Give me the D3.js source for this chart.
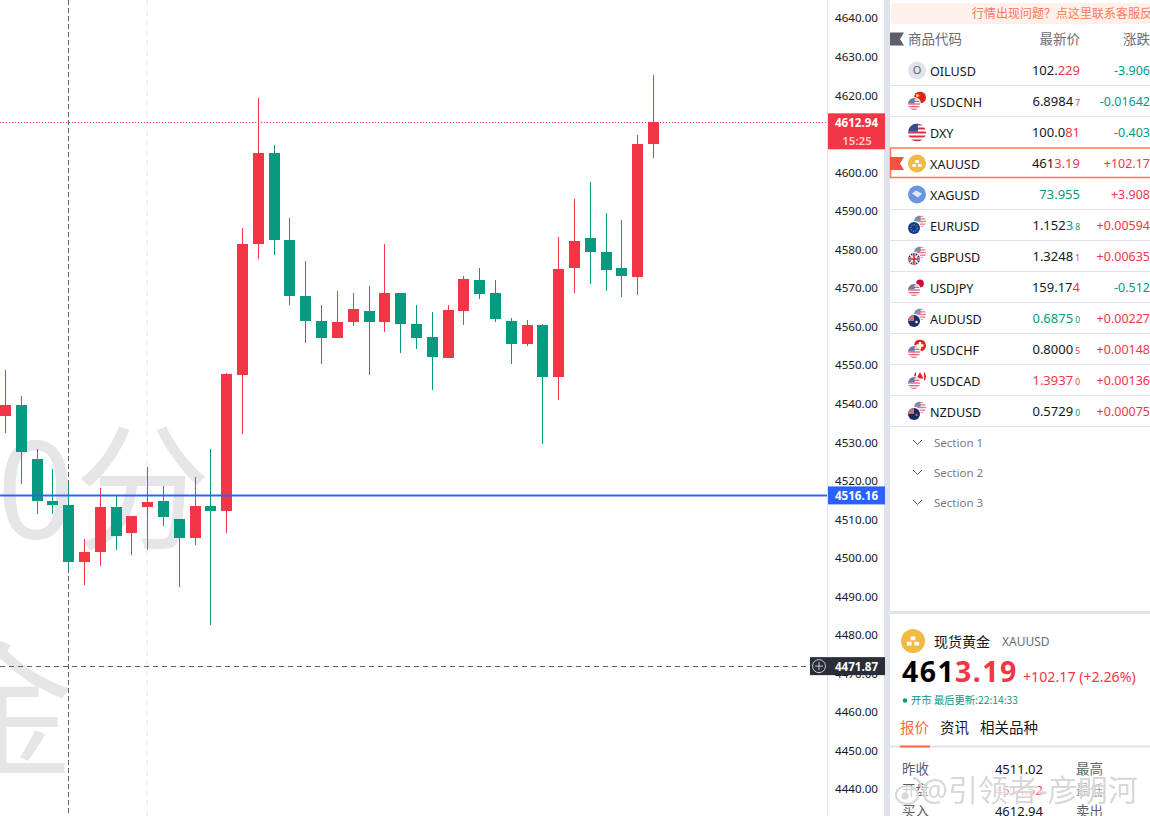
<!DOCTYPE html>
<html>
<head>
<meta charset="utf-8">
<script src="https://cdn.jsdelivr.net/npm/d3@7"></script>
<style>
html, body { margin: 0; padding: 0; background: #fff; overflow: hidden; }
svg { display: block; }
text { font-family: "Noto Sans", "Noto Sans CJK SC", sans-serif; }
.cjk { font-family: "Noto Sans CJK SC", "Noto Sans", sans-serif; }
</style>
</head>
<body>
<svg id="chart" width="1150" height="816"></svg>
<script>
// candles, left to right
var opens = [4536.8, 4539.6, 4525.6, 4514.7, 4513.7, 4499, 4501.6, 4513.2, 4506.5, 4513.2, 4514.7, 4510, 4505.2, 4513.4, 4512.2, 4547.5, 4581.5, 4605, 4582.4, 4568, 4561.5, 4557.1, 4561.1, 4564, 4561.2, 4568.7, 4560.6, 4557.3, 4551.8, 4564.1, 4572, 4568.7, 4561.4, 4555.4, 4560.4, 4547, 4575.1, 4582.9, 4579.3, 4575.1, 4572.8, 4607.3];
var highs = [4548.7, 4541.9, 4528.2, 4523, 4519.1, 4504.9, 4518.1, 4516.3, 4510.8, 4523.5, 4518.6, 4510, 4520.9, 4528.2, 4548, 4585.5, 4619.2, 4607.1, 4588.1, 4577, 4565.6, 4569.2, 4568.7, 4570.5, 4581.4, 4568.7, 4565.6, 4563.7, 4565.6, 4573.1, 4575.1, 4572, 4562.2, 4561.7, 4560.6, 4583.2, 4593, 4597.5, 4589.4, 4587.6, 4609.6, 4625.2];
var lows = [4532.4, 4519.2, 4511.4, 4511.4, 4496.8, 4492.9, 4497.9, 4502, 4500.7, 4502, 4508.2, 4492.4, 4503.3, 4482.5, 4506.4, 4532.2, 4577.5, 4578.5, 4565.6, 4555.7, 4550.2, 4557.1, 4560.1, 4547.4, 4558.5, 4553.1, 4554.1, 4543.5, 4551.8, 4560.4, 4567.1, 4561.1, 4550.2, 4554.9, 4529.5, 4540.9, 4568.7, 4571, 4569.2, 4567.6, 4568.1, 4603.7];
var closes = [4539.6, 4527.5, 4514.8, 4513.7, 4499, 4501.5, 4513.2, 4505.7, 4510.8, 4514.5, 4510.6, 4505.2, 4513.4, 4512.2, 4547.7, 4581.4, 4605, 4582.5, 4568, 4561.5, 4557.1, 4561.1, 4564.5, 4561.2, 4568.7, 4560.7, 4557.1, 4552.1, 4564.3, 4572.3, 4568.4, 4561.9, 4555.4, 4560.4, 4547, 4574.9, 4582.2, 4579.3, 4574.6, 4573.1, 4607.3, 4612.94];

var yTicks = [4440, 4450, 4460, 4470, 4480, 4490, 4500, 4510, 4520, 4530, 4540, 4550, 4560, 4570, 4580, 4590, 4600, 4610, 4620, 4630, 4640];
var lastPrice = 4612.94;
var lineLevel = 4516.16;
var crossLevel = 4471.87;

// watch list
var symbols = ["OILUSD", "USDCNH", "DXY", "XAUUSD", "XAGUSD", "EURUSD", "GBPUSD", "USDJPY", "AUDUSD", "USDCHF", "USDCAD", "NZDUSD"];
var priceBlack = ["102.", "6.8984", "100.0", "461", "", "1.152", "1.3248", "159.17", "", "0.8000", "", "0.5729"];
var priceMain = ["229", "", "81", "3.19", "73.955", "3", "", "4", "0.6875", "", "1.3937", ""];
var priceSmall = ["", "7", "", "", "", "8", "1", "", "0", "5", "0", "0"];
var mainDir = ["r", "", "r", "r", "g", "g", "", "r", "g", "", "r", ""];
var smallDir = ["", "r", "", "", "", "g", "r", "", "g", "r", "r", "g"];
var changes = ["-3.906", "-0.01642", "-0.403", "+102.17", "+3.908", "+0.00594", "+0.00635", "-0.512", "+0.00227", "+0.00148", "+0.00136", "+0.00075"];
var sections = ["Section 1", "Section 2", "Section 3"];
var tabs = ["报价", "资讯", "相关品种"];

var red = "#f23645", green = "#089981", grayLine = "#e0e3eb", dark = "#2a2e39";
var dirColor = { r: red, g: green };

var svg = d3.select("#chart");
var chartRight = 828, axisRight = 884, panelLeft = 890;

var x = d3.scaleLinear().domain([0, opens.length - 1]).range([5.5, 653.5]);
var y = d3.scaleLinear().domain([4440, 4640]).range([789, 18]);

// big background letters
var wm = svg.append("g").attr("class", "cjk").attr("fill", "#e6e6e8");
wm.append("text").attr("x", -3).attr("y", 539).attr("font-size", 136).text("0分");
wm.append("text").attr("x", -72).attr("y", 765).attr("font-size", 146).text("金");

// faint session line + crosshair
svg.append("line").attr("x1", 147).attr("x2", 147).attr("y1", 0).attr("y2", 816)
    .attr("stroke", "#f0f3fa").attr("stroke-width", 2).attr("stroke-dasharray", "6,4");
svg.append("line").attr("x1", 68.5).attr("x2", 68.5).attr("y1", 0).attr("y2", 816)
    .attr("stroke", "#5d606b").attr("stroke-dasharray", "5,3");
svg.append("line").attr("x1", 0).attr("x2", 810).attr("y1", Math.round(y(crossLevel)) + 0.5).attr("y2", Math.round(y(crossLevel)) + 0.5)
    .attr("stroke", "#5d606b").attr("stroke-dasharray", "5,4");

var candle = svg.append("g").attr("shape-rendering", "crispEdges").selectAll("g")
    .data(d3.range(opens.length))
    .enter().append("g")
    .attr("fill", function (i) { return closes[i] >= opens[i] ? red : green; });

candle.append("rect")
    .attr("x", function (i) { return Math.floor(x(i)); })
    .attr("width", 1)
    .attr("y", function (i) { return Math.round(y(highs[i])); })
    .attr("height", function (i) { return Math.round(y(lows[i])) - Math.round(y(highs[i])); });

candle.append("rect")
    .attr("x", function (i) { return Math.floor(x(i)) - 5; })
    .attr("width", 11)
    .attr("y", function (i) { return Math.round(y(Math.max(opens[i], closes[i]))); })
    .attr("height", function (i) { return Math.max(1, Math.round(y(Math.min(opens[i], closes[i]))) - Math.round(y(Math.max(opens[i], closes[i])))); });

// last price + blue level
svg.append("line").attr("x1", 0).attr("x2", chartRight).attr("y1", Math.round(y(lastPrice)) + 0.5).attr("y2", Math.round(y(lastPrice)) + 0.5)
    .attr("stroke", red).attr("stroke-dasharray", "1,2");
svg.append("line").attr("x1", 0).attr("x2", chartRight).attr("y1", y(lineLevel)).attr("y2", y(lineLevel))
    .attr("stroke", "#2962ff").attr("stroke-opacity", 0.3).attr("stroke-width", 3);
svg.append("line").attr("x1", 0).attr("x2", chartRight).attr("y1", y(lineLevel)).attr("y2", y(lineLevel))
    .attr("stroke", "#2962ff").attr("stroke-width", 1.5);

// price axis
var yAxis = d3.axisRight(y).tickValues(yTicks).tickSize(0).tickPadding(7).tickFormat(d3.format(".2f"));
var gy = svg.append("g").attr("transform", "translate(" + chartRight + ",0)").call(yAxis);
gy.select(".domain").attr("stroke", grayLine).attr("d", "M-0.5,0V816");
gy.selectAll("text").attr("font-size", 11.6).attr("fill", "#131722").attr("dy", "0.34em").style("font-family", '"Noto Sans", sans-serif');

svg.append("rect").attr("x", axisRight).attr("y", 0).attr("width", panelLeft - axisRight).attr("height", 816).attr("fill", grayLine);

function axisTag(level, color, h) {
    var top = y(level) - 9;
    svg.append("rect").attr("x", chartRight).attr("y", top).attr("width", axisRight - chartRight + 1).attr("height", h).attr("fill", color);
    svg.append("text").attr("x", 856.5).attr("y", top + 13.5).attr("text-anchor", "middle")
        .attr("font-size", 11.6).attr("font-weight", 700).attr("fill", "#fff").text(d3.format(".2f")(level));
}
axisTag(lastPrice, red, 36);
svg.append("text").attr("x", 857).attr("y", 145).attr("text-anchor", "middle")
    .attr("font-size", 11.5).attr("font-weight", 600).attr("fill", "#fcc").text("15:25");
axisTag(lineLevel, "#2962ff", 18);
axisTag(crossLevel, dark, 18);

var plus = svg.append("g").attr("transform", "translate(819," + y(crossLevel) + ")");
plus.append("rect").attr("x", -9).attr("y", -9).attr("width", 18).attr("height", 18).attr("fill", dark);
plus.append("circle").attr("r", 6.5).attr("fill", "none").attr("stroke", "#c8cad0");
plus.append("path").attr("d", "M-4,0H4M0,-4V4").attr("stroke", "#c8cad0");

// ---- right panel ----
var panel = svg.append("g");

panel.append("rect").attr("x", 891).attr("y", 3).attr("width", 259).attr("height", 21).attr("rx", 3).attr("fill", "#fff0ec");
panel.append("text").attr("class", "cjk").attr("x", 972).attr("y", 18).attr("font-size", 12).attr("fill", "#ff7a50").text("行情出现问题？点这里联系客服反馈");

function flagMark(yc, color) {
    panel.append("path")
        .attr("d", "M" + panelLeft + "," + (yc - 6.5) + "H904L900," + yc + "L904," + (yc + 6.5) + "H" + panelLeft + "Z")
        .attr("fill", color);
}
flagMark(39, "#5d606b");
panel.append("text").attr("class", "cjk").attr("x", 908).attr("y", 44).attr("font-size", 13.5).attr("fill", "#6a6d78").text("商品代码");
panel.append("text").attr("class", "cjk").attr("x", 1080).attr("y", 44).attr("text-anchor", "end").attr("font-size", 13.5).attr("fill", "#6a6d78").text("最新价");
panel.append("text").attr("class", "cjk").attr("x", 1123).attr("y", 44).attr("font-size", 13.5).attr("fill", "#6a6d78").text("涨跌");

var rowTop = 54.5, rowH = 31;
var defs = svg.append("defs");
var clipN = 0;

function clipCircle(g, cx, cy, r) {
    var id = "c" + (clipN++);
    defs.append("clipPath").attr("id", id).append("circle").attr("cx", cx).attr("cy", cy).attr("r", r);
    return g.append("g").attr("clip-path", "url(#" + id + ")");
}
function usFlag(g, cx, cy, r, op) {
    var f = clipCircle(g, cx, cy, r).attr("opacity", op);
    f.append("rect").attr("x", cx - r).attr("y", cy - r).attr("width", 2 * r).attr("height", 2 * r).attr("fill", "#fff");
    d3.range(0, 5).forEach(function (k) {
        f.append("rect").attr("x", cx - r).attr("y", cy - r + k * 2 * r / 4.5).attr("width", 2 * r).attr("height", r / 4.5).attr("fill", "#d8304a");
    });
    f.append("rect").attr("x", cx - r).attr("y", cy - r).attr("width", r * 1.1).attr("height", r * 0.9).attr("fill", "#3c4a8c");
}
function otherFlag(g, code, cx, cy, r) {
    g.append("circle").attr("cx", cx).attr("cy", cy).attr("r", r + 1).attr("fill", "#fff");
    var f = clipCircle(g, cx, cy, r);
    var bg = { CNH: "#e0241c", EUR: "#123a94", GBP: "#1f3a80", JPY: "#fff", AUD: "#1c3068", CHF: "#e0241c", CAD: "#fff", NZD: "#122a66" }[code];
    f.append("rect").attr("x", cx - r).attr("y", cy - r).attr("width", 2 * r).attr("height", 2 * r).attr("fill", bg);
    if (code == "CNH") f.append("circle").attr("cx", cx - 2.5).attr("cy", cy - 2).attr("r", 1.6).attr("fill", "#f5d63c");
    if (code == "EUR") f.append("circle").attr("cx", cx).attr("cy", cy).attr("r", r * 0.55).attr("fill", "none").attr("stroke", "#e8c93a").attr("stroke-dasharray", "1,1.5");
    if (code == "GBP") {
        f.append("path").attr("d", "M" + (cx - r) + "," + (cy - r) + "L" + (cx + r) + "," + (cy + r) + "M" + (cx + r) + "," + (cy - r) + "L" + (cx - r) + "," + (cy + r)).attr("stroke", "#fff").attr("stroke-width", 1.5);
        f.append("path").attr("d", "M" + (cx - r) + "," + cy + "H" + (cx + r) + "M" + cx + "," + (cy - r) + "V" + (cy + r)).attr("stroke", "#fff").attr("stroke-width", 3.2);
        f.append("path").attr("d", "M" + (cx - r) + "," + cy + "H" + (cx + r) + "M" + cx + "," + (cy - r) + "V" + (cy + r)).attr("stroke", "#d8202c").attr("stroke-width", 1.6);
    }
    if (code == "JPY") f.append("circle").attr("cx", cx).attr("cy", cy).attr("r", r * 0.65).attr("fill", "#c8103a");
    if (code == "AUD" || code == "NZD") {
        f.append("rect").attr("x", cx - r).attr("y", cy - r).attr("width", r).attr("height", r).attr("fill", "#c9727a");
        f.append("circle").attr("cx", cx + 2.5).attr("cy", cy + 1).attr("r", 1.2).attr("fill", code == "AUD" ? "#fff" : "#e0505a");
    }
    if (code == "CHF") f.append("path").attr("d", "M" + (cx - 3.5) + "," + cy + "H" + (cx + 3.5) + "M" + cx + "," + (cy - 3.5) + "V" + (cy + 3.5)).attr("stroke", "#fff").attr("stroke-width", 2.4);
    if (code == "CAD") {
        f.append("rect").attr("x", cx - r).attr("y", cy - r).attr("width", 2).attr("height", 2 * r).attr("fill", "#e0242c");
        f.append("rect").attr("x", cx + r - 2).attr("y", cy - r).attr("width", 2).attr("height", 2 * r).attr("fill", "#e0242c");
        f.append("path").attr("d", "M" + cx + "," + (cy - 4.5) + "L" + (cx + 3.5) + "," + (cy + 2) + "H" + (cx - 3.5) + "Z").attr("fill", "#e0242c");
    }
}
function goldIcon(g, cx, cy, r) {
    g.append("circle").attr("cx", cx).attr("cy", cy).attr("r", r).attr("fill", "#f0bb42");
    var s = r / 9;
    [[-1.8, -3.4], [-4.6, 0.6], [1, 0.6]].forEach(function (b) {
        g.append("rect").attr("x", cx + b[0] * s).attr("y", cy + b[1] * s).attr("width", 3.6 * s).attr("height", 2.8 * s).attr("fill", "#fff");
    });
}
function rowIcon(g, sym, cy) {
    var cx = 917;
    if (sym == "OILUSD") {
        g.append("circle").attr("cx", cx).attr("cy", cy).attr("r", 9).attr("fill", "#e0e3eb");
        g.append("text").attr("x", cx).attr("y", cy + 3.5).attr("text-anchor", "middle").attr("font-size", 11).attr("fill", "#5d606b").text("O");
    } else if (sym == "DXY") {
        usFlag(g, cx, cy, 9, 1);
    } else if (sym == "XAUUSD") {
        goldIcon(g, cx, cy, 9);
    } else if (sym == "XAGUSD") {
        g.append("circle").attr("cx", cx).attr("cy", cy).attr("r", 9).attr("fill", "#6c94e4");
        g.append("path").attr("d", "M" + (cx - 5) + "," + (cy - 1) + "L" + (cx - 1) + "," + (cy - 4) + "L" + (cx + 5) + "," + (cy - 1) + "L" + (cx + 1) + "," + (cy + 3) + "Z").attr("fill", "#dfe8fa");
    } else if (sym.indexOf("USD") == 0) {
        otherFlag(g, sym.slice(3), cx + 3, cy - 4, 6);
        g.append("circle").attr("cx", cx - 3).attr("cy", cy + 2.5).attr("r", 7).attr("fill", "#fff");
        usFlag(g, cx - 3, cy + 2.5, 6, 0.75);
    } else {
        usFlag(g, cx + 3, cy - 4, 6, 0.65);
        g.append("circle").attr("cx", cx - 3).attr("cy", cy + 2.5).attr("r", 7).attr("fill", "#fff");
        otherFlag(g, sym.slice(0, 3), cx - 3, cy + 2.5, 6);
    }
}

symbols.forEach(function (sym, i) {
    var yc = rowTop + rowH * i + 16;
    var row = panel.append("g");
    rowIcon(row, sym, yc);
    row.append("text").attr("x", 930).attr("y", yc + 5).attr("font-size", 12.6).attr("fill", "#131722").text(sym);

    var price = row.append("text").attr("x", 1080).attr("y", yc + 4.5).attr("text-anchor", "end").attr("font-size", 13).attr("fill", "#131722");
    price.append("tspan").text(priceBlack[i]);
    price.append("tspan").attr("fill", dirColor[mainDir[i]] || "#131722").text(priceMain[i]);
    price.append("tspan").attr("font-size", 8.5).attr("dx", 2).attr("fill", dirColor[smallDir[i]] || "#131722").text(priceSmall[i]);

    row.append("text").attr("x", 1150).attr("y", yc + 4.5).attr("text-anchor", "end").attr("font-size", 12.5)
        .attr("fill", changes[i][0] == "+" ? red : green).text(changes[i]);

    if (sym != "DXY" && sym != "XAUUSD") {
        row.append("line").attr("x1", panelLeft).attr("x2", 1150).attr("y1", yc + 15).attr("y2", yc + 15).attr("stroke", grayLine);
    }
});

// selected row
panel.append("rect").attr("x", 890.5).attr("y", 148).attr("width", 262).attr("height", 29.5)
    .attr("fill", "none").attr("stroke", "#ff7f50").attr("stroke-width", 1.6);
flagMark(163.5, "#f7503f");

sections.forEach(function (s, i) {
    var yc = 442.5 + 30 * i;
    panel.append("path").attr("d", "M913," + (yc - 2.5) + "L917.5," + (yc + 2) + "L922," + (yc - 2.5)).attr("fill", "none").attr("stroke", "#5d606b");
    panel.append("text").attr("x", 934).attr("y", yc + 4).attr("font-size", 11.5).attr("fill", "#787b86").text(s);
});

// details block
panel.append("rect").attr("x", panelLeft).attr("y", 611).attr("width", 260).attr("height", 3).attr("fill", grayLine);
goldIcon(panel, 913, 641, 12);
panel.append("text").attr("class", "cjk").attr("x", 934).attr("y", 647).attr("font-size", 14).attr("fill", "#131722").text("现货黄金");
panel.append("text").attr("x", 1002).attr("y", 646).attr("font-size", 12).attr("fill", "#6a6d78").text("XAUUSD");

var big = panel.append("text").attr("x", 902).attr("y", 682).attr("font-size", 28.5).attr("font-weight", 700).attr("letter-spacing", 1.4).attr("fill", "#000");
big.append("tspan").text("461");
big.append("tspan").attr("fill", red).text("3.19");
panel.append("text").attr("x", 1023).attr("y", 682).attr("font-size", 14.2).attr("fill", red).text("+102.17 (+2.26%)");

panel.append("circle").attr("cx", 905).attr("cy", 700.5).attr("r", 2.2).attr("fill", green);
panel.append("text").attr("class", "cjk").attr("x", 911).attr("y", 704).attr("font-size", 10.3).attr("fill", green).text("开市 最后更新:22:14:33");

var tabX = [900, 940, 980];
tabs.forEach(function (t, i) {
    panel.append("text").attr("class", "cjk").attr("x", tabX[i]).attr("y", 733).attr("font-size", 14.5)
        .attr("fill", i == 0 ? "#ff6a3a" : "#131722").text(t);
});
panel.append("rect").attr("x", panelLeft).attr("y", 745.5).attr("width", 260).attr("height", 2).attr("fill", grayLine);
panel.append("rect").attr("x", 900).attr("y", 745.5).attr("width", 30).attr("height", 2).attr("fill", "#ff6a3a");

var quoteLeft = ["昨收", "开盘", "买入"];
var quoteVals = ["4511.02", "4514.52", "4612.94"];
var quoteRight = ["最高", "最低", "卖出"];
quoteLeft.forEach(function (t, i) {
    var by = 774 + 21 * i;
    panel.append("text").attr("class", "cjk").attr("x", 902).attr("y", by).attr("font-size", 13.5).attr("fill", "#5d606b").text(t);
    panel.append("text").attr("x", 1043).attr("y", by).attr("text-anchor", "end").attr("font-size", 13).attr("fill", i == 1 ? red : "#131722").text(quoteVals[i]);
    panel.append("text").attr("class", "cjk").attr("x", 1076).attr("y", by).attr("font-size", 13.5).attr("fill", "#5d606b").text(quoteRight[i]);
});

// repost mark
var blur = defs.append("filter").attr("id", "glow").attr("x", "-10%").attr("y", "-40%").attr("width", "120%").attr("height", "180%");
blur.append("feGaussianBlur").attr("stdDeviation", 1.5);
var mark = svg.append("g").attr("class", "cjk");
mark.append("text").attr("x", 921).attr("y", 801).attr("font-size", 30).attr("fill", "#fff").attr("stroke", "#fff").attr("stroke-width", 2.5).attr("opacity", 0.8).attr("filter", "url(#glow)").text("@引领者-彦明河");
mark.append("text").attr("x", 921).attr("y", 801).attr("font-size", 30).attr("fill", "#d4d4d4").attr("opacity", 0.9).text("@引领者-彦明河");
mark.append("ellipse").attr("cx", 907).attr("cy", 795).attr("rx", 11).attr("ry", 9).attr("fill", "#fff").attr("fill-opacity", 0.7).attr("stroke", "#d8d8d8").attr("stroke-width", 2);
mark.append("circle").attr("cx", 905).attr("cy", 796).attr("r", 3.5).attr("fill", "#d8d8d8");
mark.append("path").attr("d", "M913,778A9,9 0 0 1 921,788").attr("fill", "none").attr("stroke", "#d8d8d8").attr("stroke-width", 2.5);
</script>
</body>
</html>
